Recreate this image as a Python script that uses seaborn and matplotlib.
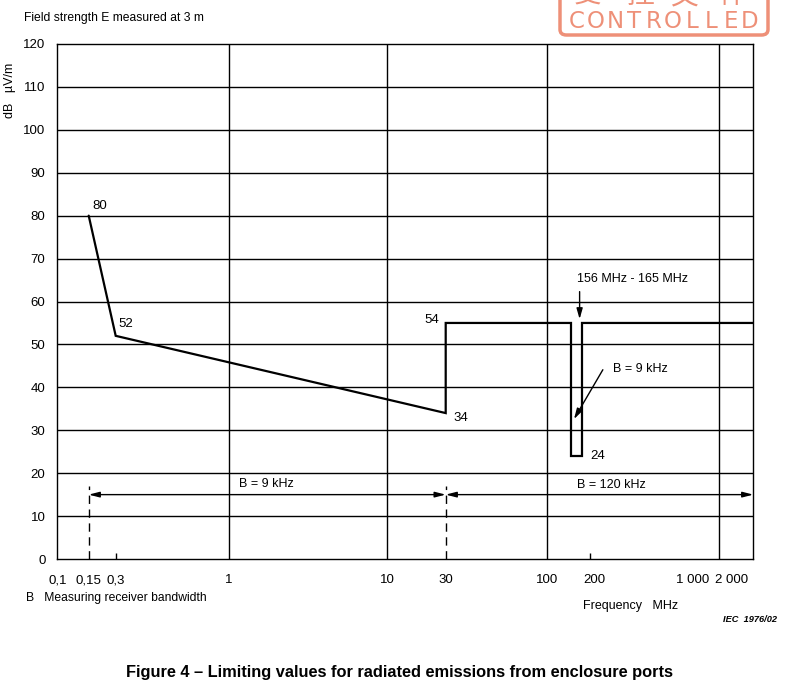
import numpy as np
import matplotlib
matplotlib.use('Agg')
import matplotlib.pyplot as plt
import seaborn as sns
from matplotlib.patches import FancyBboxPatch
from matplotlib.transforms import ScaledTranslation

# --- Data ---
freq_mhz = [0.15, 0.3, 30, 30, 156, 156, 165, 165, 2000]
limit_db = [80, 52, 34, 55, 55, 24, 24, 55, 55]

x_ticks = [0.1, 0.15, 0.3, 1, 10, 30, 100, 200, 1000, 2000]
x_ticklabels = ['0,1', '0,15', '0,3', '1', '10', '30', '100', '200', '1 000', '2 000']
x_grid = [1, 10, 100, 1000]
x_short = [0.3, 200]
x_bandwidth_edges = [0.15, 30]
y_ticks = list(range(0, 130, 10))

band_9k = (0.15, 30)
band_120k = (30, 2000)

# --- Style ---
sns.set_style('white')
plt.rcParams['font.family'] = ['Liberation Sans', 'Noto Sans CJK SC', 'DejaVu Sans']
plt.rcParams['font.size'] = 9
plt.rcParams['text.color'] = 'black'

W, H = 810, 695
fig = plt.figure(figsize=(W / 100, H / 100), dpi=100)
fig.patch.set_facecolor('white')

left_px, right_px, top_px, bottom_px = 57.3, 753.3, 44, 559
ax = fig.add_axes([left_px / W, 1 - bottom_px / H,
                   (right_px - left_px) / W, (bottom_px - top_px) / H])

# the original drawing uses an uneven (hand drawn) log axis,
# mimic it with a function scale through the drawn positions
scale_freq = [0.1, 0.15, 0.3, 1, 10, 30, 100, 156, 165, 200, 1000, 2000]
scale_px = [57.3, 88.7, 115.7, 228.7, 387.3, 445.7, 547.3, 571.0, 582.0, 590.3, 719.0, 753.3]
axis_log = np.log10(scale_freq)
axis_px = np.array(scale_px)


def fwd(x):
    x = np.clip(np.asarray(x, dtype=float), 1e-6, None)
    return np.interp(np.log10(x), axis_log, axis_px)


def inv(p):
    return 10 ** np.interp(p, axis_px, axis_log)


ax.set_xscale('function', functions=(fwd, inv))
ax.set_xlim(0.1, 2000)
ax.set_ylim(0, 120)

# grid
for yv in y_ticks[1:-1]:
    ax.axhline(yv, color='black', lw=1.0, zorder=1)
for xv in x_grid:
    ax.axvline(xv, color='black', lw=1.0, zorder=1)
ax.vlines(x_short, 0, 1.5, color='black', lw=1.0)
ax.vlines(x_bandwidth_edges, 0, 17, color='black', lw=1.0, linestyles=(0, (6, 4)))

for sp in ax.spines.values():
    sp.set_color('black')
    sp.set_linewidth(1.0)

# limit line
sns.lineplot(x=freq_mhz, y=limit_db, sort=False, estimator=None,
             color='black', lw=1.6, ax=ax, zorder=3)
ax.lines[-1].set_solid_joinstyle('miter')

ax.set_xticks(x_ticks)
ax.set_xticklabels(x_ticklabels)
ax.set_yticks(y_ticks)
ax.minorticks_off()
ax.tick_params(axis='both', length=0, labelsize=9.5, colors='black')
ax.tick_params(axis='x', pad=11)
ax.tick_params(axis='y', pad=8.5)
ax.set_xlabel('')
ax.set_ylabel('')

# the last labels sit a bit left of their ticks in the original
label_shift_px = {'200': 4, '1 000': -26, '2 000': -22}
for lab in ax.get_xticklabels():
    dx = label_shift_px.get(lab.get_text(), 0)
    if dx:
        lab.set_transform(lab.get_transform()
                          + ScaledTranslation(dx / 100, 0, fig.dpi_scale_trans))

# point labels
px2pt = 0.72
lab_kw = dict(textcoords='offset points', fontsize=9.5, va='center')
ax.annotate('80', (0.15, 80), xytext=(4 * px2pt, 10 * px2pt), ha='left', **lab_kw)
ax.annotate('52', (0.3, 52), xytext=(3 * px2pt, 12 * px2pt), ha='left', **lab_kw)
ax.annotate('54', (30, 55), xytext=(-7 * px2pt, 3 * px2pt), ha='right', **lab_kw)
ax.annotate('34', (30, 34), xytext=(8 * px2pt, -5 * px2pt), ha='left', **lab_kw)
ax.annotate('24', (165, 24), xytext=(8 * px2pt, 0), ha='left', **lab_kw)

# bandwidth arrows
arr = dict(arrowstyle='<|-|>,head_length=0.7,head_width=0.18', color='black',
           lw=1.0, shrinkA=0, shrinkB=0)
ax.annotate('', xy=(band_9k[0], 15), xytext=(band_9k[1], 15), arrowprops=arr)
ax.annotate('', xy=(band_120k[0], 15), xytext=(band_120k[1], 15), arrowprops=arr)
ax.text(1.72, 17.4, 'B = 9 kHz', ha='center', va='center', fontsize=9)
ax.text(259, 17.2, 'B = 120 kHz', ha='center', va='center', fontsize=9)

# notch annotations
ax.text(337, 65.3, '156 MHz - 165 MHz', ha='center', va='center', fontsize=9)
ax.annotate('', xy=(163, 55.9), xytext=(163, 62.3),
            arrowprops=dict(arrowstyle='-|>,head_length=0.7,head_width=0.2',
                            color='black', lw=1.0, shrinkA=0, shrinkB=0))
ax.text(372, 44.3, 'B = 9 kHz', ha='center', va='center', fontsize=9)
ax.annotate('', xy=(158.4, 32.6), xytext=(234, 44.1),
            arrowprops=dict(arrowstyle='-|>,head_length=0.7,head_width=0.2',
                            color='black', lw=1.0, shrinkA=0, shrinkB=0))


# texts around the axes
def ftxt(x, y, s, **kw):
    fig.text(x / W, 1 - y / H, s, **kw)


ftxt(24, 18, 'Field strength E measured at 3 m', ha='left', va='center', fontsize=8.7)
ftxt(10, 90, 'dB   µV/m', ha='center', va='center', rotation=90, fontsize=9)
ftxt(26, 598, 'B   Measuring receiver bandwidth', ha='left', va='center', fontsize=8.7)
ftxt(583, 606, 'Frequency   MHz', ha='left', va='center', fontsize=9)
ftxt(723, 619, 'IEC  1976/02', ha='left', va='center', fontsize=6.7,
     fontweight='bold', fontstyle='italic')
ftxt(400, 673, 'Figure 4 \u2013 Limiting values for radiated emissions from enclosure ports',
     ha='center', va='center', fontsize=11.8, fontweight='bold')

# "controlled" stamp in the top right corner
stamp_color = '#EE9078'
stamp = FancyBboxPatch((560 / W, 1 - 35 / H), 208 / W, 60 / H,
                       boxstyle='round,pad=0,rounding_size=0.008',
                       transform=fig.transFigure, facecolor='white',
                       edgecolor=stamp_color, lw=2.5, zorder=0)
fig.patches.append(stamp)
for cx, ch in zip(np.linspace(576.5, 750, 10), 'CONTROLLED'):
    ftxt(cx, 21, ch, ha='center', va='center', fontsize=16.5,
         color=stamp_color, family='DejaVu Sans', fontweight='medium')
for cx, ch in zip([587, 640, 685, 732], '受控文件'):
    ftxt(cx, 9, ch, ha='center', va='bottom', fontsize=20, color=stamp_color)

fig.savefig('out.png', dpi=100, facecolor='white')
